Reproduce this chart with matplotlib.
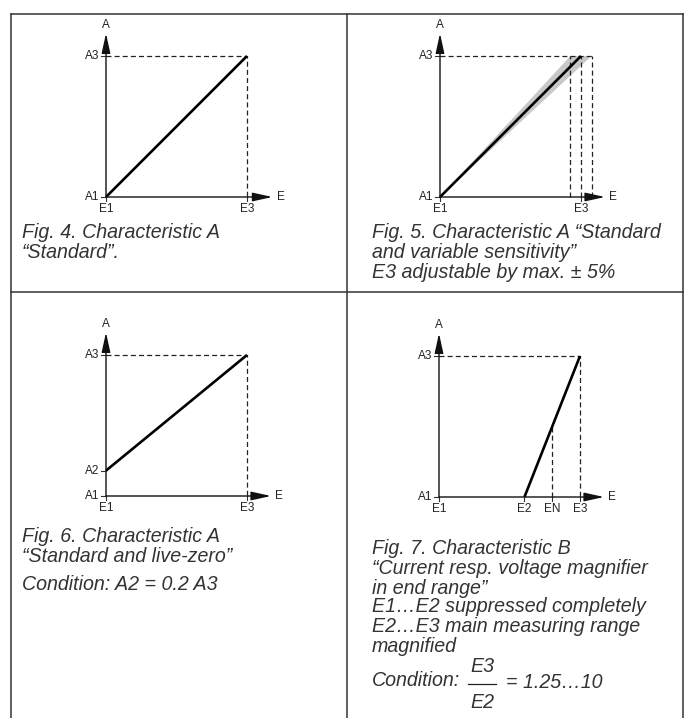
import matplotlib
matplotlib.use("Agg")
import matplotlib.pyplot as plt
from matplotlib.lines import Line2D

W, H = 686, 718
DPI = 100

# ---------------- data (normalised: E1=0, E3=1, A1=0, A3=1) ----------------
fig4_E = [0.0, 1.0]
fig4_A = [0.0, 1.0]

fig5_E = [0.0, 1.0]
fig5_A = [0.0, 1.0]
fig5_E3_range = [0.925, 1.075]      # adjustable end value (drawn band)

fig6_E = [0.0, 1.0]
fig6_A = [0.18, 1.0]                # A2 ... A3

fig7_E = [0.606, 1.0]               # E2 ... E3
fig7_A = [0.0, 1.0]
fig7_EN = 0.803

captions = {
    "fig4": ["Fig. 4. Characteristic A", "“Standard”."],
    "fig5": ["Fig. 5. Characteristic A “Standard", "and variable sensitivity”",
             "E3 adjustable by max. ± 5%"],
    "fig6": ["Fig. 6. Characteristic A", "“Standard and live-zero”"],
    "fig6_cond": "Condition: A2 = 0.2 A3",
    "fig7": ["Fig. 7. Characteristic B", "“Current resp. voltage magnifier",
             "in end range”", "E1…E2 suppressed completely",
             "E2…E3 main measuring range", "magnified"],
    "fig7_cond": ["Condition:", "E3", "E2", "= 1.25…10"],
}

# ---------------- figure ----------------
fig = plt.figure(figsize=(W / DPI, H / DPI), dpi=DPI)
fig.patch.set_facecolor("white")
renderer = fig.canvas.get_renderer()

LBL_FONT = dict(family="Liberation Sans", fontsize=8.5, color="#222222")
CAP_BASE = dict(family=["Liberation Sans", "DejaVu Sans"], style="italic",
                color="#333333")

# caption size: widest line of Fig. 5 spans ~292 px
_t = fig.text(0, 0, captions["fig5"][0], fontsize=10, **CAP_BASE)
_w = _t.get_window_extent(renderer).width
_t.remove()
CAP_SIZE = 10 * 290.0 / _w
CAP_FONT = dict(CAP_BASE, fontsize=CAP_SIZE)

AXC = "#333333"
S = 141.0


def fig_line(xs, ys, **kw):
    fig.add_artist(Line2D([x / W for x in xs], [1 - y / H for y in ys],
                          transform=fig.transFigure, **kw))


def make_ax(ox, oy):
    x0, x1, y0, y1 = -0.25, 1.35, -0.2, 1.3
    left = (ox + x0 * S) / W
    bottom = (H - (oy - y0 * S)) / H
    ax = fig.add_axes([left, bottom, (x1 - x0) * S / W, (y1 - y0) * S / H])
    ax.set_xlim(x0, x1)
    ax.set_ylim(y0, y1)
    ax.axis("off")
    return ax


def draw_axes(ax, xmax, ymax, xticks, yticks):
    for xy in [(xmax, 0), (0, ymax)]:
        ax.annotate("", xy=xy, xytext=(0, 0),
                    arrowprops=dict(arrowstyle="-|>,head_length=1.0,head_width=0.22",
                                    color="#111111", lw=1.0, shrinkA=0, shrinkB=0,
                                    mutation_scale=12))
    ax.text(xmax + 0.03, 0, "E", ha="left", va="center", **LBL_FONT)
    ax.text(0, ymax + 0.02, "A", ha="center", va="bottom", **LBL_FONT)
    for x, lab in xticks:
        ax.plot([x, x], [0, -0.03], color=AXC, lw=0.8)
        ax.text(x, -0.045, lab, ha="center", va="top", **LBL_FONT)
    for y, lab in yticks:
        ax.plot([0, -0.035], [y, y], color=AXC, lw=0.8)
        ax.text(-0.045, y, lab, ha="right", va="center", **LBL_FONT)


DASH = dict(color="#222222", lw=0.9, ls=(0, (4, 2.5)))
MAIN = dict(color="black", lw=1.9, solid_capstyle="butt")

# ---- Fig. 4 ----
ax = make_ax(106, 197)
ax.plot([0, fig4_E[1], fig4_E[1]], [fig4_A[1], fig4_A[1], 0], **DASH)
ax.plot(fig4_E, fig4_A, **MAIN)
draw_axes(ax, 1.18, 1.16, [(0, "E1"), (fig4_E[1], "E3")], [(0, "A1"), (fig4_A[1], "A3")])

# ---- Fig. 5 ----
ax = make_ax(440, 197)
lo, hi = fig5_E3_range
ax.fill([0, lo, hi], [0, fig5_A[1], fig5_A[1]], color="#c8c8c8", lw=0)
ax.plot([0, hi], [fig5_A[1], fig5_A[1]], **DASH)
for xv in [lo, fig5_E[1], hi]:
    ax.plot([xv, xv], [0, fig5_A[1]], **DASH)
ax.plot(fig5_E, fig5_A, **MAIN)
draw_axes(ax, 1.17, 1.16, [(0, "E1"), (fig5_E[1], "E3")], [(0, "A1"), (fig5_A[1], "A3")])

# ---- Fig. 6 ----
ax = make_ax(106, 496)
ax.plot([0, fig6_E[1], fig6_E[1]], [fig6_A[1], fig6_A[1], 0], **DASH)
ax.plot(fig6_E, fig6_A, **MAIN)
draw_axes(ax, 1.17, 1.16, [(0, "E1"), (fig6_E[1], "E3")],
          [(0, "A1"), (fig6_A[0], "A2"), (fig6_A[1], "A3")])

# ---- Fig. 7 ----
ax = make_ax(439, 497)
ax.plot([0, fig7_E[1], fig7_E[1]], [fig7_A[1], fig7_A[1], 0], **DASH)
yEN = (fig7_EN - fig7_E[0]) / (fig7_E[1] - fig7_E[0]) * (fig7_A[1] - fig7_A[0]) + fig7_A[0]
ax.plot([fig7_EN, fig7_EN], [0, yEN], **DASH)
ax.plot(fig7_E, fig7_A, **MAIN)
draw_axes(ax, 1.17, 1.16,
          [(0, "E1"), (fig7_E[0], "E2"), (fig7_EN, "EN"), (fig7_E[1], "E3")],
          [(0, "A1"), (fig7_A[1], "A3")])

# ---------------- table frame ----------------
FR = dict(color="#333333", lw=1.1)
fig_line([11, 683], [14, 14], **FR)
fig_line([11, 683], [292, 292], **FR)
fig_line([11, 11], [14, 718], **FR)
fig_line([347, 347], [14, 718], **FR)
fig_line([683, 683], [14, 718], **FR)


# ---------------- captions ----------------
def caption(x, ys, lines):
    for y, t in zip(ys, lines):
        fig.text(x / W, 1 - y / H, t, ha="left", va="center", **CAP_FONT)


caption(22, [233, 253], captions["fig4"])
caption(372, [233, 253, 273], captions["fig5"])
caption(22, [537, 557], captions["fig6"])
caption(22, [585], [captions["fig6_cond"]])
caption(372, [548, 568, 588, 607, 627, 647], captions["fig7"])

cond, num, den, rhs = captions["fig7_cond"]
t = fig.text(372 / W, 1 - 680 / H, cond, ha="left", va="center", **CAP_FONT)
xe = 372 + t.get_window_extent(renderer).width + 8
tn = fig.text(0, 0, num, **CAP_FONT)
wn = tn.get_window_extent(renderer).width
tn.remove()
xc = xe + wn / 2 + 2
fig.text(xc / W, 1 - 667 / H, num, ha="center", va="center", **CAP_FONT)
fig.text(xc / W, 1 - 703 / H, den, ha="center", va="center", **CAP_FONT)
fig_line([xe, xe + wn + 4], [684, 684], color="#222222", lw=0.9)
fig.text((xe + wn + 14) / W, 1 - 682 / H, rhs, ha="left", va="center", **CAP_FONT)

fig.savefig("out.png", dpi=DPI)
